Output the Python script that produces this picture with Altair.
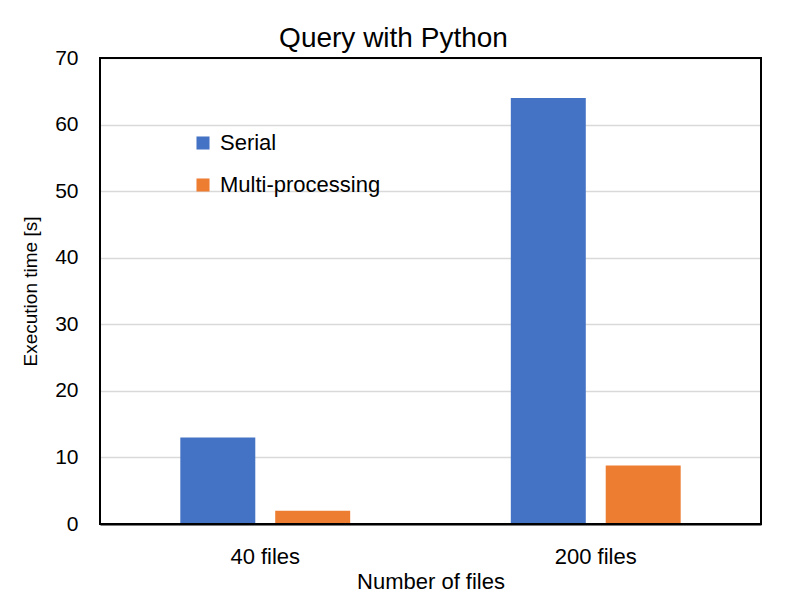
import altair as alt
import pandas as pd

categories = ["40 files", "200 files"]
series = ["Serial", "Multi-processing"]
serial_vals = [13, 64]
multi_vals = [2, 8.8]
colors = ["#4472C4", "#ED7D31"]

rows = []
for i, c in enumerate(categories):
    rows.append({"cat": c, "series": series[0], "val": serial_vals[i]})
    rows.append({"cat": c, "series": series[1], "val": multi_vals[i]})
df = pd.DataFrame(rows)

FONT = "Liberation Sans"

bars = alt.Chart(df).mark_bar(stroke=None).encode(
    x=alt.X("cat:N", sort=categories, title="Number of files",
            scale=alt.Scale(paddingInner=0.486, paddingOuter=0.243),
            axis=alt.Axis(labelAngle=0, ticks=False, domain=True, domainColor="black",
                          domainWidth=2, labelFontSize=22, titleFontSize=22,
                          labelPadding=22, titlePadding=4, labelColor="black",
                          titleColor="black", labelFont=FONT, titleFont=FONT,
                          titleFontWeight="normal")),
    xOffset=alt.XOffset("series:N", sort=series,
                        scale=alt.Scale(paddingInner=0.21, paddingOuter=0)),
    y=alt.Y("val:Q", title="Execution time [s]",
            scale=alt.Scale(domain=[0, 70], nice=False),
            axis=alt.Axis(values=list(range(0, 71, 10)), ticks=False, domain=False,
                          gridColor="#D9D9D9", gridWidth=1.5, labelFontSize=21,
                          titleFontSize=19, labelPadding=22, titlePadding=14,
                          labelColor="black", titleColor="black", labelFont=FONT,
                          titleFont=FONT, titleFontWeight="normal")),
    color=alt.Color("series:N", sort=series,
                    scale=alt.Scale(domain=series, range=colors),
                    legend=alt.Legend(title=None, orient="none", legendX=92, legendY=74,
                                      symbolType="square", symbolSize=170,
                                      labelFontSize=22, labelFont=FONT, labelColor="black",
                                      labelLimit=400, rowPadding=20, symbolStrokeWidth=0,
                                      labelOffset=6)),
)

frame = alt.Chart(alt.Data(values=[{}])).mark_rect(
    fill=None, stroke="black", strokeWidth=2
).encode(
    x=alt.value(0), x2=alt.value("width"), y=alt.value(0), y2=alt.value("height")
)

chart = alt.layer(bars, frame).properties(
    width=661, height=466,
    title=alt.TitleParams("Query with Python", fontSize=28, font=FONT,
                          fontWeight="normal", color="black", offset=6, dx=-37, dy=12),
    autosize=alt.AutoSizeParams(type="none"),
    padding={"left": 92, "top": 50, "right": 10, "bottom": 70},
).configure(background="white").configure_view(stroke=None)

chart.save("out.html", embed_options={"renderer": "svg", "actions": False})
